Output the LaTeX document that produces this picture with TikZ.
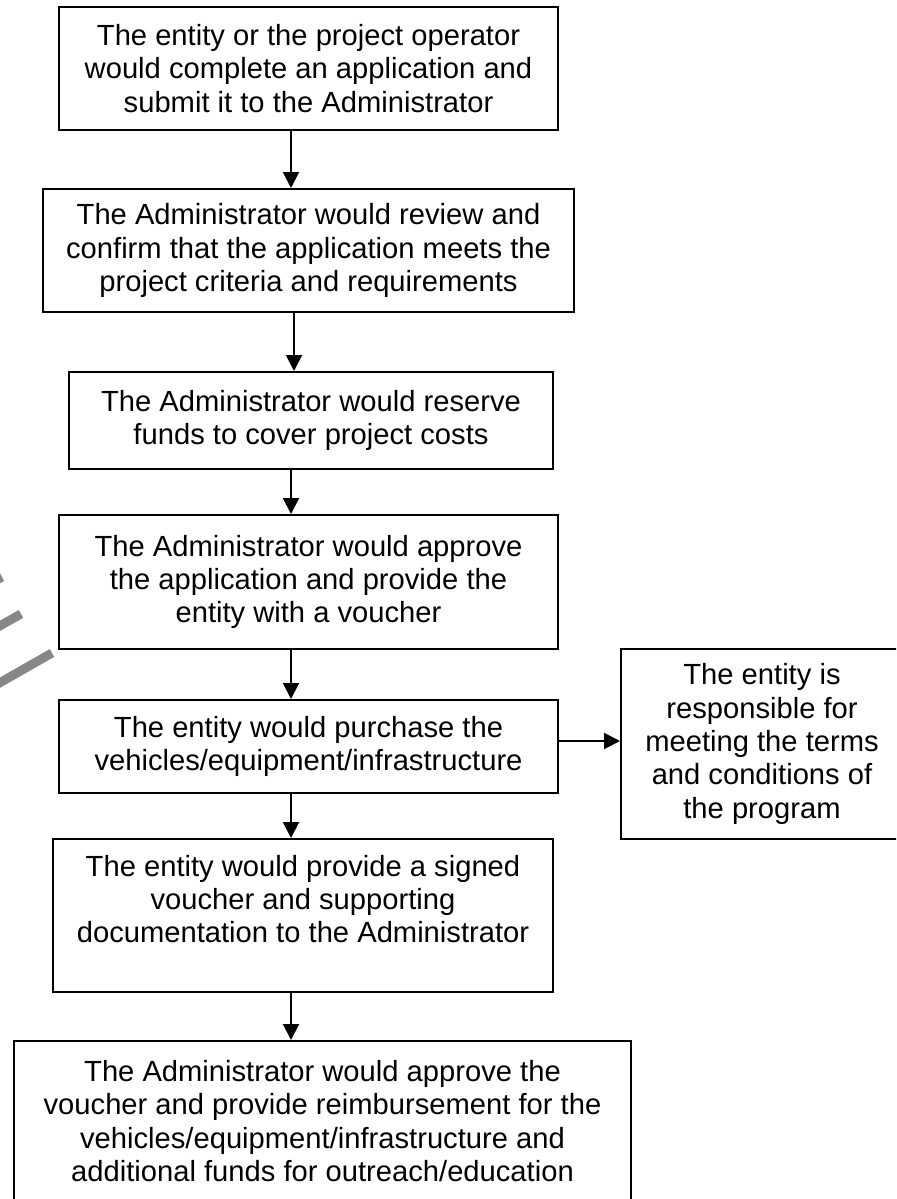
\documentclass[tikz,border=0pt]{standalone}
\usepackage{fontspec}
\setmainfont{Liberation Sans}
\usepackage{tikz}
\usetikzlibrary{arrows.meta}

\begin{document}
\begin{tikzpicture}[x=0.02cm,y=-0.02cm,
  box/.style={draw,line width=0.04cm,inner sep=0pt,align=center,
    font=\fontsize{16.6}{19}\selectfont},
  flow/.style={line width=0.04cm,-{Triangle[length=0.32cm,width=0.32cm]}},
  stamp/.style={line width=0.18cm,color=black!47}]
\useasboundingbox (0,0) rectangle (896,1199);
\clip (0,0) rectangle (896,1199);

% faint watermark strokes on the left edge
\draw[stamp] (-20,694) -- (52,653);
\draw[stamp] (-20,637) -- (21,614);
\draw[stamp] (-20,589) -- (2,577);

\node[box,minimum width=0.02cm*499,minimum height=0.02cm*123] at (308.5,68.5) (apply) {The entity or the project operator\\would complete an application and\\submit it to the Administrator};
\node[box,minimum width=0.02cm*531,minimum height=0.02cm*123] at (308.5,250.5) (review) {The Administrator would review and\\confirm that the application meets the\\project criteria and requirements};
\node[box,minimum width=0.02cm*484,minimum height=0.02cm*97] at (311,420.5) (reserve) {The Administrator would reserve\\funds to cover project costs};
\node[box,minimum width=0.02cm*499,minimum height=0.02cm*134] at (308.5,582) (approve) {The Administrator would approve\\the application and provide the\\entity with a voucher};
\node[box,minimum width=0.02cm*499,minimum height=0.02cm*93] at (308.5,746.5) (purchase) {The entity would purchase the\\vehicles/equipment/infrastructure};
\node[box,minimum width=0.02cm*282,minimum height=0.02cm*190] at (762,744) (terms) {The entity is\\responsible for\\meeting the terms\\and conditions of\\the program};
\node[box,minimum width=0.02cm*500,minimum height=0.02cm*153] at (303,915.5) (submit) {The entity would provide a signed\\voucher and supporting\\documentation to the Administrator\\\mbox{}};
\node[box,minimum width=0.02cm*617,minimum height=0.02cm*160] at (322.5,1121) (payout) {The Administrator would approve the\\voucher and provide reimbursement for the\\vehicles/equipment/infrastructure and\\additional funds for outreach/education};

% arrows run a bit left of the box centres
\coordinate (spine) at (291,0);
\coordinate (spine2) at (294,0);
\coordinate (tap) at (0,741);

\draw[flow] (apply.south -| spine) -- (review.north -| spine);
\draw[flow] (review.south -| spine2) -- (reserve.north -| spine2);
\draw[flow] (reserve.south -| spine) -- (approve.north -| spine);
\draw[flow] (approve.south -| spine) -- (purchase.north -| spine);
\draw[flow] (purchase.south -| spine) -- (submit.north -| spine);
\draw[flow] (submit.south -| spine) -- (payout.north -| spine);
\draw[flow] (purchase.east |- tap) -- (terms.west |- tap);
\end{tikzpicture}
\end{document}
